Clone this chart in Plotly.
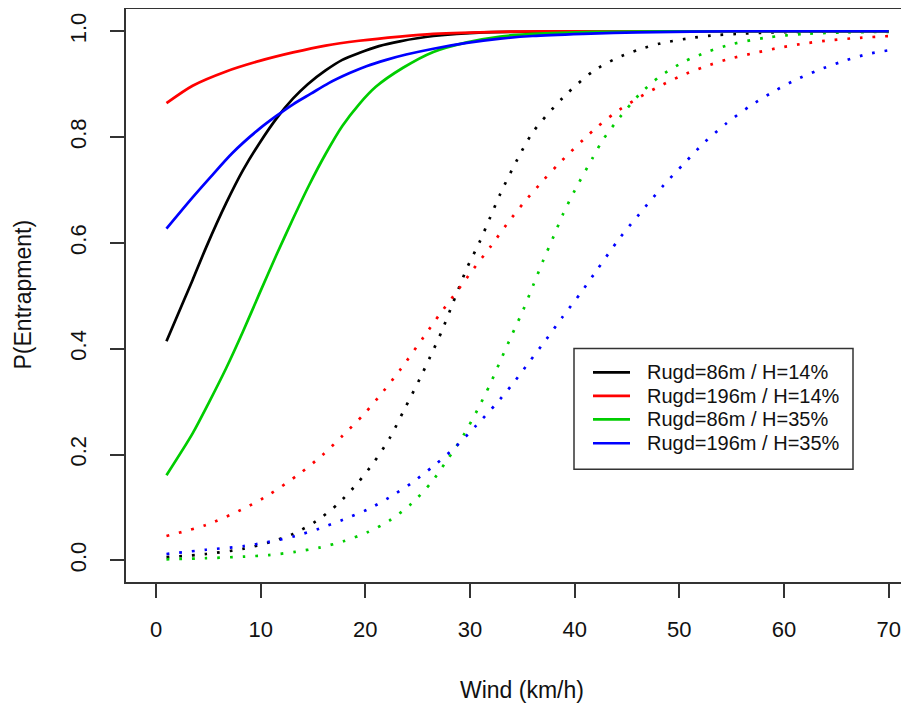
import plotly.graph_objects as go

# ---- data ----
series_names = ["Rugd=86m / H=14%", "Rugd=196m / H=14%", "Rugd=86m / H=35%", "Rugd=196m / H=35%"]
series_colors = ["#000000", "#FF0000", "#00CD00", "#0000FF"]

# solid curves
wind_black = [1, 2.7, 3.5, 4.8, 6.7, 8.3, 9.9, 11.5, 13.1, 14.5, 16.2, 17.8, 19.4, 21.3, 23.3, 26.5, 31.3, 36, 45, 55, 70]
p_black = [0.414, 0.493, 0.530, 0.592, 0.675, 0.737, 0.789, 0.835, 0.873, 0.900, 0.926, 0.946, 0.959, 0.972, 0.981, 0.991, 0.998, 0.999, 1.0, 1.0, 1.0]

wind_red = [1, 3.5, 6.7, 9.9, 13.1, 16.2, 19.4, 23.3, 26.5, 32.9, 40, 50, 70]
p_red = [0.864, 0.897, 0.924, 0.944, 0.960, 0.973, 0.982, 0.990, 0.995, 0.999, 1.0, 1.0, 1.0]

wind_green = [1, 3.5, 5.1, 6.7, 8.3, 9.9, 11.5, 13.1, 14.6, 16.2, 17.8, 19.4, 21, 23.6, 26.5, 29.7, 32.9, 36, 42, 50, 70]
p_green = [0.161, 0.240, 0.300, 0.363, 0.432, 0.505, 0.577, 0.646, 0.708, 0.768, 0.821, 0.862, 0.895, 0.931, 0.961, 0.979, 0.990, 0.995, 0.999, 1.0, 1.0]

wind_blue = [1, 3.5, 5.1, 7.3, 9.9, 11.5, 13.1, 14.8, 16.5, 18.5, 20.1, 22, 23.9, 26.5, 29.7, 32.9, 36, 40.8, 46, 55, 70]
p_blue = [0.627, 0.686, 0.722, 0.770, 0.816, 0.840, 0.862, 0.882, 0.902, 0.921, 0.934, 0.946, 0.956, 0.967, 0.978, 0.986, 0.991, 0.995, 0.998, 1.0, 1.0]

# dotted curves
wind_black_dot = [1, 4.8, 8.4, 10.8, 13.1, 15.3, 17.4, 19.3, 20.8, 22.3, 23.8, 25.2, 26.2, 27.3, 28.2, 29.7, 30.9, 31.9, 32.9, 34.5, 36, 38.9, 41.8, 44, 46.2, 48.2, 50.7, 53.1, 55.5, 57.8, 61.3, 70]
p_black_dot = [0.006, 0.012, 0.022, 0.034, 0.050, 0.074, 0.107, 0.147, 0.185, 0.230, 0.288, 0.343, 0.385, 0.433, 0.478, 0.552, 0.601, 0.647, 0.693, 0.757, 0.809, 0.875, 0.925, 0.949, 0.966, 0.977, 0.986, 0.992, 0.995, 0.997, 0.999, 1.0]

wind_red_dot = [1, 4.8, 8.4, 10.8, 13.8, 15.9, 17.8, 19.9, 21.7, 23.4, 25.6, 27.1, 28.7, 30.3, 32, 33.5, 35.1, 36.9, 38.6, 41.8, 43.8, 45.9, 48, 50.2, 52.4, 54.8, 57.2, 59.6, 62, 64.4, 66.8, 70]
p_red_dot = [0.046, 0.067, 0.098, 0.124, 0.165, 0.199, 0.235, 0.277, 0.319, 0.362, 0.423, 0.465, 0.507, 0.550, 0.594, 0.635, 0.675, 0.716, 0.752, 0.813, 0.845, 0.872, 0.895, 0.916, 0.933, 0.948, 0.959, 0.969, 0.977, 0.983, 0.987, 0.991]

wind_green_dot = [1, 4.8, 8.4, 10.8, 13.3, 15.6, 17.9, 20.2, 22.3, 24.4, 26.3, 27.8, 29.4, 30.7, 31.9, 32.9, 34, 35.1, 36, 37, 38, 38.9, 40, 41.7, 42.7, 44.3, 46.2, 48.1, 50.4, 52.8, 55.1, 58.3, 62, 66, 70]
p_green_dot = [0.002, 0.004, 0.007, 0.010, 0.016, 0.024, 0.036, 0.053, 0.075, 0.107, 0.147, 0.189, 0.237, 0.284, 0.332, 0.377, 0.426, 0.474, 0.518, 0.567, 0.613, 0.655, 0.699, 0.760, 0.795, 0.837, 0.881, 0.914, 0.942, 0.962, 0.976, 0.988, 0.995, 0.998, 0.999]

wind_blue_dot = [1, 4.8, 8.4, 10.8, 13.3, 15.6, 17.9, 20.2, 22.3, 24.4, 26.5, 28.6, 30.6, 32.5, 34.1, 35.7, 37.3, 38.8, 40.6, 42.1, 44.3, 46.7, 48.5, 50.5, 52.4, 54.5, 56.7, 59, 61.1, 63.2, 65.6, 68, 70]
p_blue_dot = [0.012, 0.020, 0.027, 0.035, 0.046, 0.060, 0.077, 0.096, 0.119, 0.146, 0.178, 0.214, 0.255, 0.296, 0.334, 0.376, 0.418, 0.459, 0.506, 0.548, 0.609, 0.667, 0.709, 0.751, 0.790, 0.826, 0.858, 0.886, 0.908, 0.926, 0.943, 0.957, 0.964]

x_ticks = [0, 10, 20, 30, 40, 50, 60, 70]
y_ticks = [0.0, 0.2, 0.4, 0.6, 0.8, 1.0]
y_tick_labels = ["0.0", "0.2", "0.4", "0.6", "0.8", "1.0"]
x_title = "Wind (km/h)"
y_title = "P(Entrapment)"

solid = [(wind_black, p_black), (wind_red, p_red), (wind_green, p_green), (wind_blue, p_blue)]
dotted = [(wind_black_dot, p_black_dot), (wind_red_dot, p_red_dot), (wind_green_dot, p_green_dot), (wind_blue_dot, p_blue_dot)]

FONT = "Liberation Sans, Arial, sans-serif"
AXC = "#333333"
TXT = "#111111"

# the page body has an 8px margin, so the figure is drawn 8px smaller and all
# page-pixel positions are shifted by that offset
OFF = 8
W, H = 909 - OFF, 703 - OFF
PLOT_L, PLOT_R, PLOT_T, PLOT_B = 126, 909, 8, 582  # page pixels of the plot box
ML, MR, MT, MB = PLOT_L - OFF, 0, PLOT_T - OFF + 0.5, H - (PLOT_B - OFF)


def px_x(p):
    return (p - PLOT_L) / (PLOT_R - PLOT_L)


def px_y(p):
    return (PLOT_B - p) / (PLOT_B - PLOT_T)


fig = go.Figure()
for (xs, ys), col in zip(dotted, series_colors):
    fig.add_trace(go.Scatter(x=xs, y=ys, mode="lines", showlegend=False, hoverinfo="skip",
                             line=dict(color=col, width=2.7, dash="2.7px,10px", shape="spline", smoothing=0.8)))
for (xs, ys), col, name in zip(solid, series_colors, series_names):
    fig.add_trace(go.Scatter(x=xs, y=ys, mode="lines", name=name, showlegend=False,
                             line=dict(color=col, width=2.7, shape="spline", smoothing=0.8)))

shapes = []
annotations = []
# legend box (drawn like R's legend())
shapes.append(dict(type="rect", xref="paper", yref="paper",
                   x0=px_x(574), x1=px_x(853), y0=px_y(469), y1=px_y(348),
                   line=dict(color=AXC, width=1.5), fillcolor="white", layer="above"))
row_y = [372, 395.5, 419, 443]
for ry, col, name in zip(row_y, series_colors, series_names):
    shapes.append(dict(type="line", xref="paper", yref="paper",
                       x0=px_x(593), x1=px_x(630), y0=px_y(ry), y1=px_y(ry),
                       line=dict(color=col, width=2.7), layer="above"))
    annotations.append(dict(xref="paper", yref="paper", x=px_x(645), y=px_y(ry),
                            xanchor="left", yanchor="middle", showarrow=False, text=name,
                            font=dict(family=FONT, size=20, color=TXT)))

annotations.append(dict(xref="paper", yref="paper", x=px_x(521.5), y=px_y(690),
                        xanchor="center", yanchor="middle", showarrow=False, text=x_title,
                        font=dict(family=FONT, size=23, color=TXT)))
annotations.append(dict(xref="paper", yref="paper", x=px_x(23), y=px_y(294),
                        xanchor="center", yanchor="middle", showarrow=False, text=y_title,
                        textangle=-90, font=dict(family=FONT, size=23, color=TXT)))

fig.update_layout(
    width=W, height=H,
    margin=dict(l=ML, r=MR, t=MT, b=MB, pad=0, autoexpand=False),
    paper_bgcolor="white", plot_bgcolor="white",
    font=dict(family=FONT, size=22, color=TXT),
    showlegend=False,
    shapes=shapes, annotations=annotations,
)
fig.update_xaxes(range=[(PLOT_L - 156) / 10.467, (PLOT_R - 156) / 10.467], tickvals=x_ticks, ticks="outside", ticklen=14,
                 tickcolor=AXC, tickwidth=1.5, showline=True, linecolor=AXC, linewidth=1.5,
                 mirror=True, showgrid=False, zeroline=False, ticklabelstandoff=13, automargin=False)
fig.update_yaxes(range=[(560.3 - PLOT_B) / 530, (560.3 - PLOT_T) / 530], tickvals=y_ticks, ticktext=y_tick_labels,
                 ticks="outside", ticklen=14, tickcolor=AXC, tickwidth=1.5, showline=True, linecolor=AXC,
                 linewidth=1.5, mirror=True, showgrid=False, zeroline=False, tickangle=-90,
                 ticklabelstandoff=15, automargin=False)

fig.write_html("out.html")
